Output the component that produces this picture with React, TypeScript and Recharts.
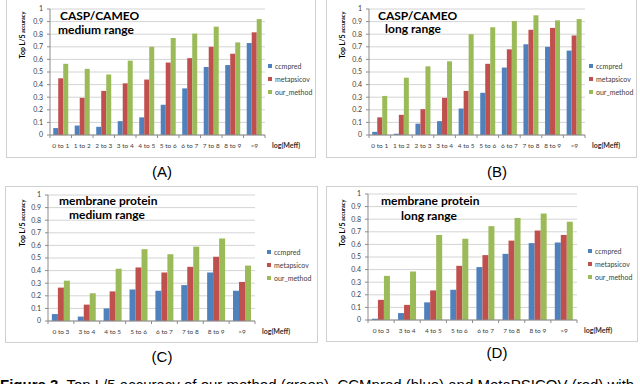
import React from 'react';
import { BarChart, Bar, XAxis, YAxis, CartesianGrid, Legend } from 'recharts';

// ---------- data ----------
const casCategories = ['0 to 1', '1 to 2', '2 to 3', '3 to 4', '4 to 5', '5 to 6', '6 to 7', '7 to 8', '8 to 9', '>9'];
const memCategories = ['0 to 3', '3 to 4', '4 to 5', '5 to 6', '6 to 7', '7 to 8', '8 to 9', '>9'];

const seriesNames = ['ccmpred', 'metapsicov', 'our_method'];
const seriesColors = ['#4f81bd', '#c0504d', '#9bbb59'];

// (A) CASP/CAMEO medium range
const aCcmpred = [0.055, 0.075, 0.065, 0.11, 0.14, 0.24, 0.37, 0.54, 0.555, 0.73];
const aMetapsicov = [0.45, 0.295, 0.35, 0.41, 0.44, 0.575, 0.61, 0.70, 0.645, 0.815];
const aOurMethod = [0.565, 0.525, 0.48, 0.59, 0.70, 0.77, 0.805, 0.86, 0.735, 0.92];

// (B) CASP/CAMEO long range
const bCcmpred = [0.025, 0.01, 0.09, 0.11, 0.21, 0.335, 0.535, 0.72, 0.70, 0.67];
const bMetapsicov = [0.14, 0.16, 0.205, 0.295, 0.35, 0.565, 0.68, 0.835, 0.85, 0.79];
const bOurMethod = [0.31, 0.455, 0.545, 0.585, 0.80, 0.855, 0.905, 0.95, 0.91, 0.92];

// (C) membrane protein medium range
const cCcmpred = [0.055, 0.035, 0.10, 0.25, 0.24, 0.285, 0.385, 0.24];
const cMetapsicov = [0.265, 0.13, 0.235, 0.425, 0.385, 0.43, 0.51, 0.31];
const cOurMethod = [0.32, 0.22, 0.415, 0.57, 0.53, 0.59, 0.655, 0.44];

// (D) membrane protein long range
const dCcmpred = [0.01, 0.055, 0.14, 0.24, 0.42, 0.525, 0.61, 0.615];
const dMetapsicov = [0.16, 0.12, 0.235, 0.43, 0.515, 0.63, 0.71, 0.675];
const dOurMethod = [0.35, 0.385, 0.675, 0.645, 0.745, 0.81, 0.845, 0.78];

const yTicks = [0, 0.1, 0.2, 0.3, 0.4, 0.5, 0.6, 0.7, 0.8, 0.9, 1];

const captionLead = 'Figure 3.';
const captionRest = 'Top L/5 accuracy of our method (green), CCMpred (blue) and MetaPSICOV (red) with';

function buildRows(cats: string[], s1: number[], s2: number[], s3: number[]) {
  return cats.map((c, i) => ({ cat: c, ccmpred: s1[i], metapsicov: s2[i], our_method: s3[i] }));
}

const AXIS = '#8c8c8c';
const GRID = '#d4d4d4';
const TXT = '#404040';
const FONT = 'Lato, "Open Sans", sans-serif';

const makeXTick = (n: number, fallbackHalf: number) => (props: any) => {
  const { x, y, payload, index } = props;
  const half = payload && typeof payload.offset === 'number' && payload.offset > 0 ? payload.offset : fallbackHalf;
  return (
    <g>
      <line x1={x - half} y1={y} x2={x - half} y2={y + 3} stroke={AXIS} />
      {index === n - 1 ? <line x1={x + half} y1={y} x2={x + half} y2={y + 3} stroke={AXIS} /> : null}
      <text x={x} y={y + 13} textAnchor="middle" fontSize={6.5} fill={TXT} fontFamily={FONT}>
        {payload.value}
      </text>
    </g>
  );
};

const legendContent = (props: any) => {
  const payload = props && props.payload && props.payload.length ? props.payload : seriesNames.map((n, i) => ({ value: n, color: seriesColors[i] }));
  return (
    <div style={{ fontFamily: FONT, fontSize: 7, color: TXT }}>
      {payload.map((p: any, i: number) => (
        <div key={i} style={{ display: 'flex', alignItems: 'center', height: 13 }}>
          <span style={{ display: 'inline-block', width: 4, height: 4, background: p.color, marginRight: 3 }} />
          <span>{p.value}</span>
        </div>
      ))}
    </div>
  );
};

type PanelProps = {
  left: number;
  top: number;
  width: number;
  height: number;
  margin: { top: number; right: number; bottom: number; left: number };
  yAxisWidth: number;
  data: any[];
  n: number;
  legendTop: number;
  legendLeft: number;
};

function Panel(p: PanelProps) {
  const plotW = p.width - p.margin.left - p.margin.right - p.yAxisWidth;
  return (
    <div style={{ position: 'absolute', left: p.left, top: p.top, width: p.width, height: p.height, border: '1px solid #d0d0d0', boxSizing: 'border-box', fontFamily: FONT }}>
      <div style={{ position: 'absolute', left: -1, top: -1 }}>
        <BarChart width={p.width} height={p.height} data={p.data} margin={p.margin} barCategoryGap="15%" barGap={0}>
          <CartesianGrid vertical={false} stroke={GRID} />
          <XAxis
            dataKey="cat"
            type="category"
            height={20}
            stroke={AXIS}
            tickLine={false}
            tickSize={0}
            tickMargin={0}
            interval={0}
            tick={makeXTick(p.n, plotW / p.n / 2)}
            label={{ value: 'log(Meff)', position: 'right', offset: 7, dy: 1, fontSize: 7, fontWeight: 700, fill: '#303030' }}
          />
          <YAxis
            type="number"
            domain={[0, 1]}
            ticks={yTicks}
            width={p.yAxisWidth}
            stroke={AXIS}
            tickSize={3}
            tickMargin={4}
            tick={{ fontSize: 7, fill: TXT, fontFamily: FONT }}
            tickFormatter={(v: number) => String(Number(v.toFixed(1)))}
            interval={0}
          />
          <Legend
            layout="vertical"
            align="center"
            verticalAlign="middle"
            content={legendContent}
            wrapperStyle={{ left: p.legendLeft, top: p.legendTop, width: 60, height: 39 }}
          />
          {seriesNames.map((s, i) => (
            <Bar key={s} dataKey={s} name={s} fill={seriesColors[i]} isAnimationActive={false} />
          ))}
        </BarChart>
      </div>
    </div>
  );
}

function Title({ x, y, text }: { x: number; y: number; text: string }) {
  return (
    <div style={{ position: 'absolute', left: x, top: y - 6, height: 12, lineHeight: '12px', fontFamily: FONT, fontWeight: 700, fontSize: 12, color: '#000', whiteSpace: 'nowrap' }}>
      {text}
    </div>
  );
}

function YLabel({ cx, cy }: { cx: number; cy: number }) {
  const W = 70;
  const H = 10;
  return (
    <div style={{ position: 'absolute', left: cx - W / 2, top: cy - H / 2, width: W, height: H, lineHeight: '10px', textAlign: 'center', transform: 'rotate(-90deg)', fontFamily: FONT, color: '#000', whiteSpace: 'nowrap' }}>
      <span style={{ fontSize: 7, fontWeight: 700 }}>Top L/5</span>
      <span style={{ fontSize: 5.5, fontWeight: 700 }}> accuracy</span>
    </div>
  );
}

function PanelLetter({ cx, cy, text }: { cx: number; cy: number; text: string }) {
  return (
    <div style={{ position: 'absolute', left: cx - 30, top: cy - 10, width: 60, height: 20, lineHeight: '20px', textAlign: 'center', fontFamily: '"Liberation Sans", Arial, sans-serif', fontSize: 15, color: '#000' }}>
      {text}
    </div>
  );
}

export default function App() {
  const dataA = buildRows(casCategories, aCcmpred, aMetapsicov, aOurMethod);
  const dataB = buildRows(casCategories, bCcmpred, bMetapsicov, bOurMethod);
  const dataC = buildRows(memCategories, cCcmpred, cMetapsicov, cOurMethod);
  const dataD = buildRows(memCategories, dCcmpred, dMetapsicov, dOurMethod);

  return (
    <div style={{ position: 'absolute', left: 0, top: 0, width: 640, height: 384, overflow: 'hidden', background: '#fff' }}>
      <Panel left={6} top={-2} width={310} height={160} margin={{ top: 11, right: 51, bottom: 3, left: 0 }} yAxisWidth={44} data={dataA} n={10} legendLeft={262} legendTop={61} />
      <Panel left={326} top={-2} width={311} height={160} margin={{ top: 11, right: 52, bottom: 3, left: 0 }} yAxisWidth={43} data={dataB} n={10} legendLeft={263} legendTop={61} />
      <Panel left={5} top={186} width={313} height={157} margin={{ top: 9, right: 63, bottom: 2, left: 0 }} yAxisWidth={43} data={dataC} n={8} legendLeft={262} legendTop={59} />
      <Panel left={326} top={186} width={312} height={156} margin={{ top: 8, right: 61, bottom: 2, left: 0 }} yAxisWidth={42} data={dataD} n={8} legendLeft={262} legendTop={58} />

      <Title x={60} y={16} text="CASP/CAMEO" />
      <Title x={58} y={30} text="medium range" />
      <Title x={378} y={16} text="CASP/CAMEO" />
      <Title x={385} y={29} text="long range" />
      <Title x={59} y={201} text="membrane protein" />
      <Title x={69} y={215} text="medium range" />
      <Title x={381} y={201} text="membrane protein" />
      <Title x={401} y={216} text="long range" />

      <YLabel cx={19} cy={35} />
      <YLabel cx={339} cy={35} />
      <YLabel cx={19} cy={223} />
      <YLabel cx={339} cy={223} />

      <PanelLetter cx={162} cy={172} text="(A)" />
      <PanelLetter cx={497} cy={172} text="(B)" />
      <PanelLetter cx={162} cy={357} text="(C)" />
      <PanelLetter cx={497} cy={353} text="(D)" />

      <div style={{ position: 'absolute', left: 0, top: 376, height: 8, overflow: 'hidden', lineHeight: '17px', whiteSpace: 'nowrap', fontFamily: '"Liberation Sans", Arial, sans-serif', fontSize: 15, color: '#000' }}>
        <b>{captionLead}</b> {captionRest}
      </div>
    </div>
  );
}
